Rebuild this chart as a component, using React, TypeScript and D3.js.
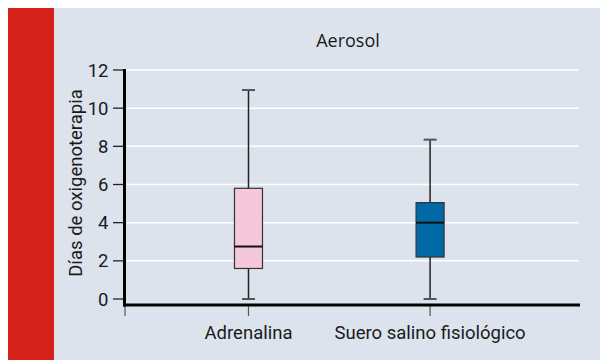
import React from "react";
import * as d3 from "d3";

// Box plot data (días de oxigenoterapia)
const groups = ["Adrenalina", "Suero salino fisiológico"];
const mins = [0, 0];
const q1s = [1.6, 2.2];
const medians = [2.75, 4.0];
const q3s = [5.8, 5.05];
const maxs = [10.95, 8.35];
const boxColors = ["#f5c7da", "#016aa6"];
const yTicks = [0, 2, 4, 6, 8, 10, 12];
const title = "Aerosol";
const yLabel = "Días de oxigenoterapia";

const FONT = "Roboto, 'Liberation Sans Narrow', sans-serif";

export default function App() {
  // everything in page coordinates, svg sits at the 8px body margin
  const y = d3.scaleLinear().domain([0, 12]).range([299, 70]);
  const x = d3.scaleLinear().domain([0.32, 2.82]).range([125, 579]);
  const xTicks = [x.domain()[0], 1, 2];
  const boxW = 28;
  const capW = 13;
  const axisY = 305;

  return (
    <svg width={600} height={352} style={{ display: "block" }}>
      <g transform="translate(-8,-8)">
        <rect x={54} y={8} width={554} height={352} fill="#dde3ed" />
        <rect x={8} y={8} width={46} height={352} fill="#d4221b" />

        {/* grid */}
        {yTicks.filter(t => t > 0).map(t => (
          <line key={"g" + t} x1={126} x2={579} y1={y(t)} y2={y(t)} stroke="#ffffff" strokeWidth={1.5} />
        ))}

        {/* y ticks + labels */}
        {yTicks.map(t => (
          <g key={"y" + t}>
            <line x1={113} x2={124} y1={y(t)} y2={y(t)} stroke="#222" strokeWidth={1.3} />
            <text x={108.5} y={y(t)} dy="0.36em" textAnchor="end" fontFamily={FONT} fontSize={18.5} fill="#1a1a1a">
              {t}
            </text>
          </g>
        ))}

        {/* x ticks */}
        {xTicks.map((t, i) => (
          <line key={"x" + i} x1={x(t)} x2={x(t)} y1={axisY} y2={316} stroke="#555" strokeWidth={1.2} />
        ))}

        {/* boxes */}
        {groups.map((g, i) => {
          const cx = x(i + 1);
          return (
            <g key={g}>
              <line x1={cx} x2={cx} y1={y(maxs[i])} y2={y(q3s[i])} stroke="#222" strokeWidth={1.5} />
              <line x1={cx} x2={cx} y1={y(q1s[i])} y2={y(mins[i])} stroke="#222" strokeWidth={1.5} />
              <line x1={cx - capW / 2} x2={cx + capW / 2} y1={y(maxs[i])} y2={y(maxs[i])} stroke="#555" strokeWidth={2} />
              <line x1={cx - capW / 2} x2={cx + capW / 2} y1={y(mins[i])} y2={y(mins[i])} stroke="#555" strokeWidth={2} />
              <rect
                x={cx - boxW / 2}
                y={y(q3s[i])}
                width={boxW}
                height={y(q1s[i]) - y(q3s[i])}
                fill={boxColors[i]}
                stroke="#333"
                strokeWidth={1.2}
              />
              <line x1={cx - boxW / 2} x2={cx + boxW / 2} y1={y(medians[i])} y2={y(medians[i])} stroke="#111" strokeWidth={2} />
              <text x={cx} y={339} textAnchor="middle" fontFamily={FONT} fontSize={18.5} fill="#1a1a1a">
                {g}
              </text>
            </g>
          );
        })}

        {/* axes */}
        <line x1={124.5} x2={124.5} y1={69} y2={axisY + 1.5} stroke="#000" strokeWidth={3} />
        <line x1={123} x2={580} y1={axisY} y2={axisY} stroke="#000" strokeWidth={3} />

        <text x={348} y={47} textAnchor="middle" fontFamily="'Open Sans', sans-serif" fontSize={18} fill="#1a1a1a">
          {title}
        </text>
        <text transform="translate(82,183) rotate(-90)" textAnchor="middle" fontFamily={FONT} fontSize={18.5} fill="#1a1a1a">
          {yLabel}
        </text>
      </g>
    </svg>
  );
}
